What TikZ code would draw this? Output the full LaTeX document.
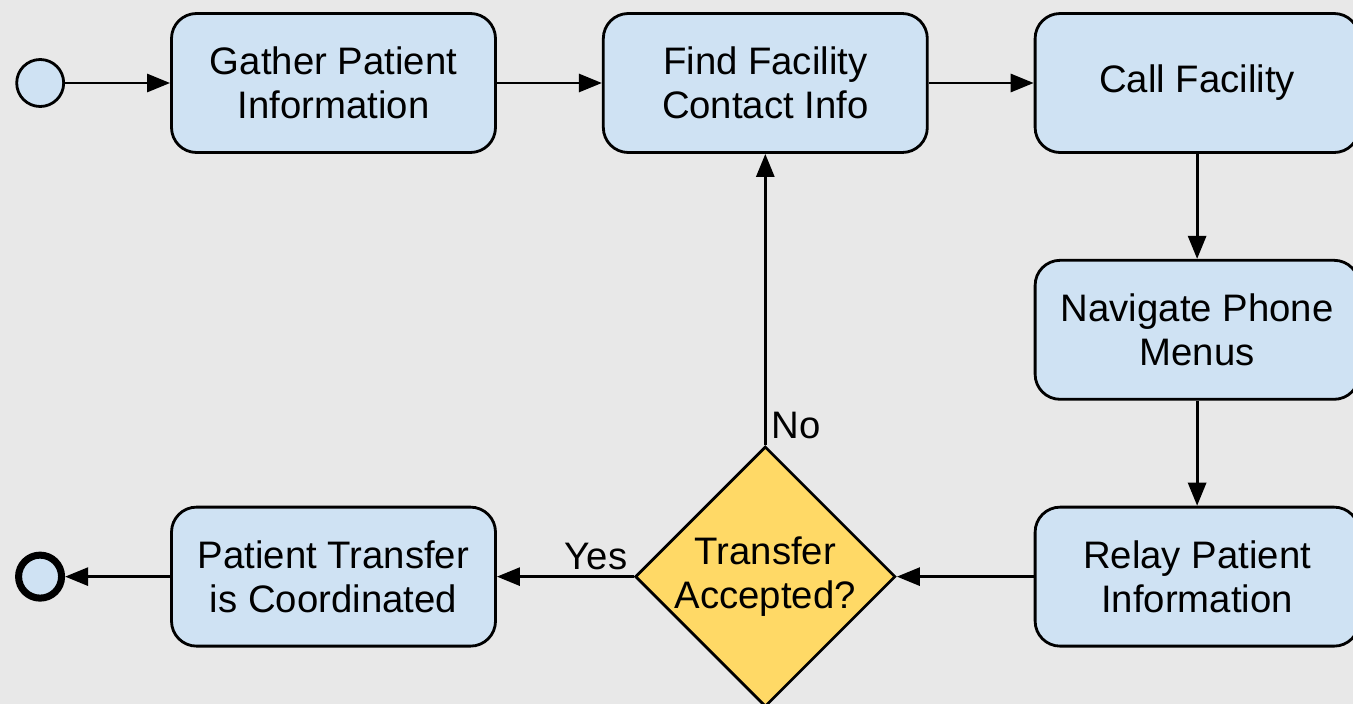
\documentclass[tikz,border=0pt]{standalone}
\usepackage{fontspec}
\setmainfont{Liberation Sans}
\definecolor{taskblau}{HTML}{CFE2F3}
\definecolor{gategelb}{HTML}{FFD966}
\definecolor{papier}{HTML}{E8E8E8}
\usetikzlibrary{arrows.meta, shapes, positioning, calc}

\begin{document}
\begin{tikzpicture}[
    node distance=10.5mm,
    font=\fontsize{10.9}{12.4}\selectfont,
    task/.style={rectangle, rounded corners=2.5mm, draw, line width=0.8pt,
                 fill=taskblau, minimum width=32.4mm, minimum height=13.9mm,
                 align=center},
    gate/.style={diamond, draw, line width=0.8pt, fill=gategelb,
                 minimum width=25.3mm, minimum height=25.4mm, inner sep=0pt,
                 align=center},
    startev/.style={circle, draw, line width=0.8pt, fill=taskblau,
                    minimum size=4.7mm, inner sep=0pt},
    endev/.style={circle, draw, line width=2pt, fill=taskblau,
                  minimum size=4.3mm, inner sep=0pt},
    arr/.style={-{Triangle[length=2.3mm, width=1.8mm]}, line width=0.8pt}
  ]
  \useasboundingbox[fill=papier] (0,0) rectangle (13.53,-7.04);

  \node[task] (gather) at (3.335,-0.83) {Gather Patient\\Information};
  \node[task, right=of gather] (find) {Find Facility\\Contact Info};
  \node[task, right=of find] (call) {Call Facility};
  \node[task, below=of call] (nav) {Navigate Phone\\Menus};
  \node[task, below=of nav] (relay) {Relay Patient\\Information};
  \node[gate] (accept) at (find |- relay) {Transfer\\Accepted?};
  \node[task] (done) at (gather |- relay) {Patient Transfer\\is Coordinated};

  \node[startev, left=of gather] (start) {};
  \node[endev, left=of done] (stop) {};

  \draw[arr] (start) -- (gather);
  \draw[arr] (gather) -- (find);
  \draw[arr] (find) -- (call);
  \draw[arr] (call) -- (nav);
  \draw[arr] (nav) -- (relay);
  \draw[arr] (relay) -- (accept);
  \draw[arr] (accept) -- (done)
    node[pos=0, above left, inner sep=0.5mm] {Yes};
  \draw[arr] (accept) -- (find)
    node[pos=0, above right, inner sep=0.5mm] {No};
  \draw[arr] (done) -- (stop);
\end{tikzpicture}
\end{document}
